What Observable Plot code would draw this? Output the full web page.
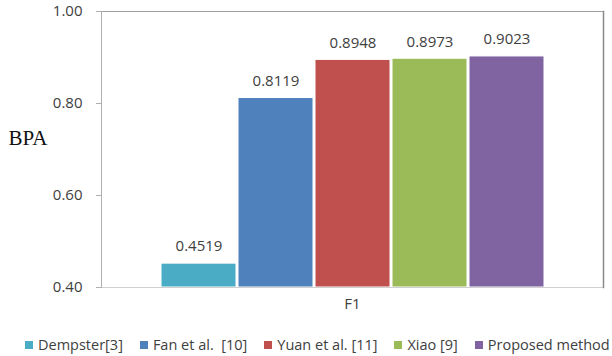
<!DOCTYPE html>
<html>
<head>
<meta charset="utf-8">
<script src="https://cdn.jsdelivr.net/npm/d3@7"></script>
<script src="https://cdn.jsdelivr.net/npm/@observablehq/plot@0.6"></script>
<style>
  html, body { margin: 0; padding: 0; background: #fff; }
  #chart { width: 612px; height: 356px; position: relative; overflow: hidden; }
  #legend { position: absolute; left: 25px; top: 328px; width: 600px; margin: 0 !important; white-space: pre; flex-wrap: nowrap !important; }
  .lg-swatch { margin-right: 17px !important; white-space: pre; }
  .lg-swatch svg { margin-right: 5px !important; }
</style>
</head>
<body>
<div id="chart"></div>
<script>
const methods = ["Dempster[3]", "Fan et al.  [10]", "Yuan et al. [11]", "Xiao [9]", "Proposed method"];
const values = [0.4519, 0.8119, 0.8948, 0.8973, 0.9023];
const colors = ["#4BACC6", "#4F81BD", "#C0504D", "#9BBB59", "#8064A2"];
const groupLabel = ["F1"];
const yTicks = [0.40, 0.60, 0.80, 1.00];
const yTitle = ["BPA"];

const data = methods.map((m, i) => ({method: m, value: values[i]}));
const font = "'Open Sans', 'Liberation Sans', Arial, sans-serif";
const textColor = "#404040";

const plot = Plot.plot({
  width: 612,
  height: 322,
  marginLeft: 101,
  marginRight: 9,
  marginTop: 11,
  marginBottom: 35,
  style: {fontFamily: font, fontSize: "15px", color: textColor, background: "white"},
  x: {domain: methods, paddingInner: 0.026, paddingOuter: 0.7725, axis: null},
  y: {domain: [yTicks[0], yTicks[yTicks.length - 1]], clamp: true, axis: null},
  color: {domain: methods, range: colors},
  marks: [
    Plot.barY(data, {x: "method", y: "value", fill: "method", stroke: "white", strokeWidth: 1}),
    Plot.ruleY([yTicks[0]], {stroke: "#d0d0d0", strokeWidth: 1.2}),
    Plot.ruleY([yTicks[yTicks.length - 1]], {stroke: "#a0a0a0"}),
    Plot.frame({anchor: "right", stroke: "#8a8a8a", strokeWidth: 1.5}),
    Plot.axisY({ticks: yTicks, tickFormat: d3.format(".2f"), tickSize: 5, tickPadding: 14, label: null, stroke: "#b0b0b0", fill: textColor, fontSize: 15}),
    Plot.frame({anchor: "left", stroke: "#b0b0b0"}),
    Plot.text(data, {x: "method", y: "value", text: d => d3.format(".4f")(d.value), dy: -17, fill: textColor, fontSize: 15}),
    Plot.text(groupLabel, {frameAnchor: "bottom", dy: 21, fill: textColor, fontSize: 15}),
    Plot.text(yTitle, {frameAnchor: "left", dx: -93, dy: -11, textAnchor: "start", fontFamily: "'Liberation Serif', 'Times New Roman', serif", fontSize: 21, fill: "#111"})
  ]
});

const legend = Plot.legend({
  color: {domain: methods, range: colors},
  swatchSize: 8,
  className: "lg",
  style: {fontFamily: font, fontSize: "14.5px", color: textColor}
});
legend.id = "legend";

const chart = document.getElementById("chart");
chart.appendChild(plot);
chart.appendChild(legend);
</script>
</body>
</html>
